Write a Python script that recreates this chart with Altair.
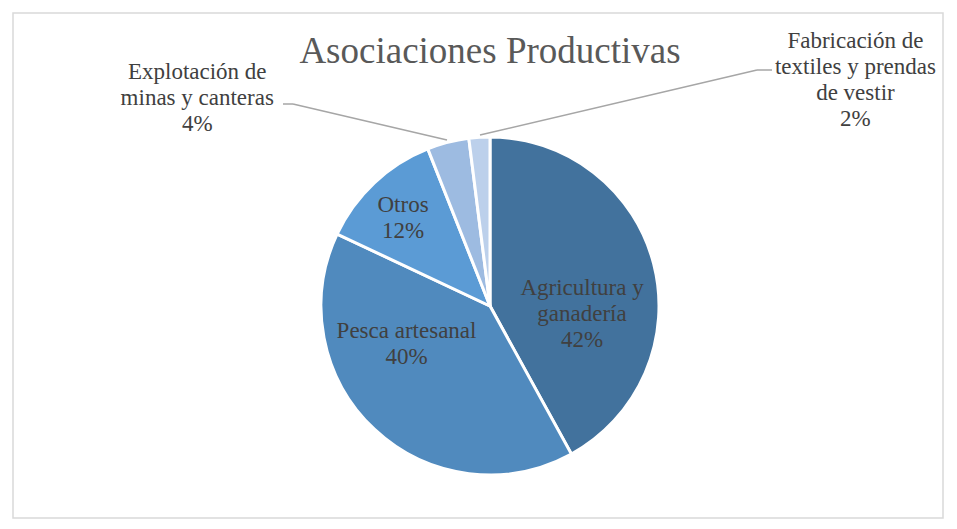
import math
import altair as alt
import pandas as pd

# ---- data ----
categories = [
    "Agricultura y ganadería",
    "Pesca artesanal",
    "Otros",
    "Explotación de minas y canteras",
    "Fabricación de textiles y prendas de vestir",
]
values = [42, 40, 12, 4, 2]
label_lines = [
    ["Agricultura y", "ganadería"],
    ["Pesca artesanal"],
    ["Otros"],
    ["Explotación de", "minas y canteras"],
    ["Fabricación de", "textiles y prendas", "de vestir"],
]
title_text = "Asociaciones Productivas"

# ---- style / layout ----
colors = ["#42729D", "#508ABE", "#5B9BD5", "#9DBBE1", "#BCD0EB"]
W, H = 930, 505
CX, CY = 477, 293
R = 169
FONT = "Liberation Serif, Times New Roman, serif"
# per-label: radius from centre along slice mid-angle, then dx, dy
label_layout = [
    (95, 0, 13),
    (100, -15, -41),
    (127, 0, -1),
    (200, -243, -33),
    (200, 378, -58),
]
# leader lines (segments, chart pixel coords)
leaders = [
    [(270, 91, 280, 91), (280, 91, 434, 127)],
    [(759, 57, 744, 57), (744, 57, 467, 122)],
]

total = sum(values)
df = pd.DataFrame({
    "cat": categories,
    "value": values,
    "order": list(range(len(categories))),
    "label": ["\n".join(l + [f"{v}%"]) for l, v in zip(label_lines, values)],
})

base_text = dict(font=FONT, lineBreak="\n", align="center", baseline="alphabetic")

pie = alt.Chart(df).mark_arc(outerRadius=R, stroke="white", strokeWidth=3).encode(
    theta=alt.Theta("value:Q", stack=True),
    color=alt.Color("cat:N", scale=alt.Scale(domain=categories, range=colors), legend=None),
    order=alt.Order("order:Q"),
    x=alt.value(CX),
    y=alt.value(CY),
)

layers = [pie]

for i, (r, dx, dy) in enumerate(label_layout):
    t = (
        alt.Chart(df)
        .transform_window(cum="sum(value)", sort=[alt.SortField("order")], frame=[None, 0])
        .transform_calculate(mid="datum.cum - datum.value / 2")
        .transform_filter(alt.datum.order == i)
        .mark_text(radius=r, dx=dx, dy=dy, fontSize=23, lineHeight=26, color="#404040", **base_text)
        .encode(
            theta=alt.Theta("mid:Q", scale=alt.Scale(domain=[0, total], range=[0, 2 * math.pi])),
            text="label:N",
            x=alt.value(CX),
            y=alt.value(CY),
        )
    )
    layers.append(t)

dummy = pd.DataFrame({"a": [0]})
for segs in leaders:
    for (x1, y1, x2, y2) in segs:
        layers.append(
            alt.Chart(dummy).mark_rule(color="#A6A6A6", strokeWidth=1.5).encode(
                x=alt.value(x1), x2=alt.value(x2), y=alt.value(y1), y2=alt.value(y2)
            )
        )

# title
layers.append(
    alt.Chart(pd.DataFrame({"t": [title_text]})).mark_text(
        fontSize=37, color="#595959", **base_text
    ).encode(text="t:N", x=alt.value(477), y=alt.value(50))
)

chart = (
    alt.layer(*layers)
    .properties(width=W, height=H)
    .configure(font=FONT)
    .configure_view(stroke="#D9D9D9", strokeWidth=1.5)
)

chart.save("out.html", embed_options={"renderer": "svg", "actions": False})
